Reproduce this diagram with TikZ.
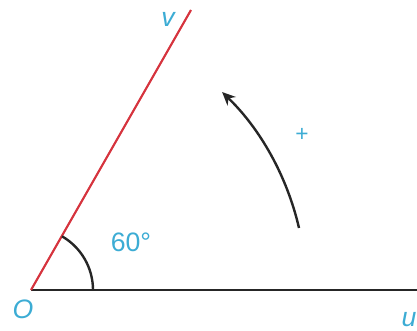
\documentclass[tikz,border=0pt]{standalone}
\usepackage{fontspec}
\setmainfont{Liberation Sans}
\usetikzlibrary{arrows.meta, positioning}
\definecolor{vecred}{RGB}{214,52,62}
\definecolor{labelcyan}{RGB}{60,172,212}
\tikzstyle{label} = [text=labelcyan, font=\fontsize{20}{24}\selectfont, inner sep=0pt]
\tikzstyle{axis} = [line width=2pt, black!85]

\begin{document}
\begin{tikzpicture}[x=0.75pt, y=0.75pt]
	\useasboundingbox (0, 0) rectangle (417, 331);

	\coordinate (O) at (31, 41);
	\coordinate (U) at (417, 41);
	\coordinate (V) at (191, 321);

	\draw [axis] (O) -- (U);
	\draw [line width=1.6pt, vecred] (O) -- (V);

	% angle between the two lines
	\draw [line width=1.8pt, black!85] (93, 41) arc (0:60:62);

	% rotation arrow
	\coordinate (ArcStart) at (299, 103);
	\draw [line width=1.8pt, black!85, -{Stealth[length=10pt, width=9pt]}] (ArcStart) arc (13:46:275);

	\node (LblO) [label] at (23, 22) {\itshape O};
	\node (LblU) [label] at (409, 11) {\itshape u};
	\node (LblV) [label] at (168, 312) {\itshape v};
	\node (LblAngle) [label] at (131, 89) {60°};
	\node (LblPlus) [label, font=\fontsize{17}{20}\selectfont] at (302, 196) {+};

\end{tikzpicture}
\end{document}
